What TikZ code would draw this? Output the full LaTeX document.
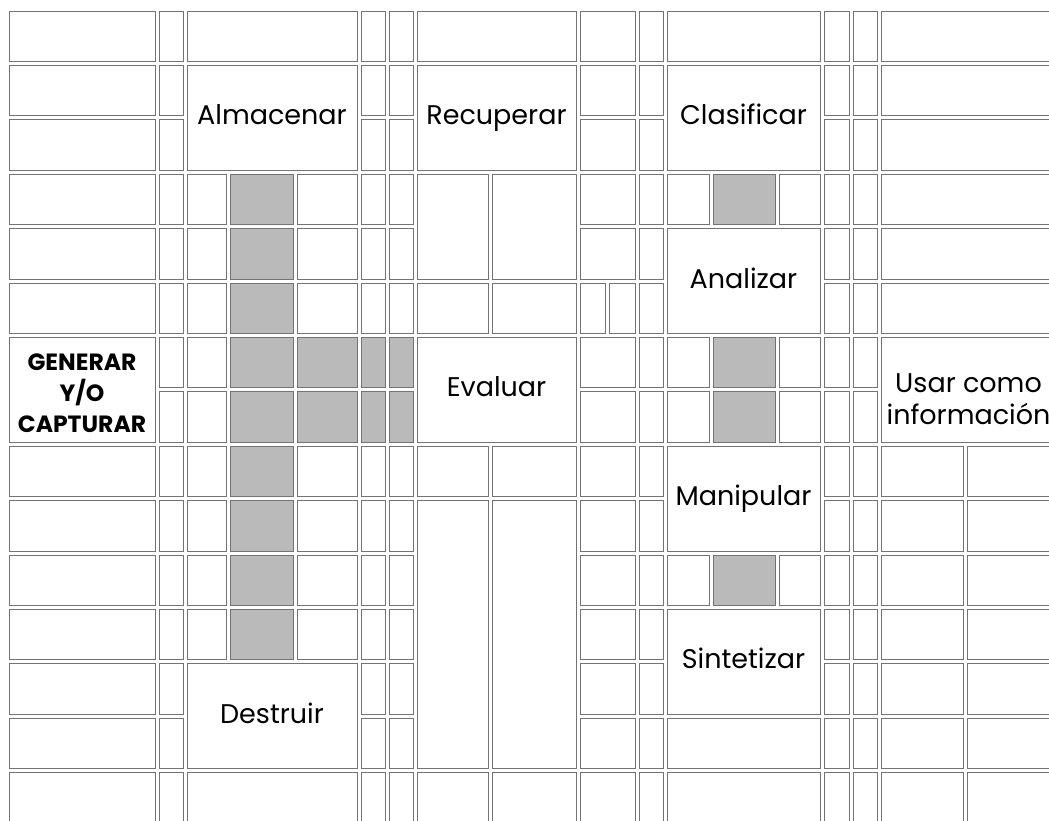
\documentclass[tikz,border=0pt]{standalone}
\usepackage{fontspec}
\setmainfont{Poppins}
\usepackage{tikz}

\tikzset{
  cell/.style={draw=black!55, line width=1pt},
  word/.style={font=\fontsize{27}{32}\selectfont, align=center, inner sep=0pt, anchor=base},
  twoline/.style={font=\fontsize{27}{32}\selectfont, align=center, inner sep=0pt, anchor=north},
  bigword/.style={font=\fontsize{23.5}{31}\selectfont\bfseries, align=center, inner sep=0pt, anchor=north}
}
\colorlet{shade}{black!27}

% one box: [fill] x-left, x-right, first row, last row
\newcommand{\blk}[5][white]{\draw[cell,fill=#1] (#2,{11+54.4*#4}) rectangle (#3,{11+54.4*(#5+1)-4});}

\begin{document}
\begin{tikzpicture}[x=1pt,y=-1pt]
  \useasboundingbox (0,0) rectangle (1049,820);
  \clip (0,0) rectangle (1049,820);
  % columns with one box per row
  \foreach \r in {0,...,14}{
    \blk{159}{183}{\r}{\r}
    \blk{639}{663}{\r}{\r}
    \blk{824}{849}{\r}{\r}
    \blk{853}{877}{\r}{\r}
  }
  \foreach \r in {0,...,5,8,9,...,14}{
    \blk{9}{155}{\r}{\r}
    \blk{361}{385}{\r}{\r}
    \blk{389}{413}{\r}{\r}
  }
  \foreach \r in {6,7}{
    \blk[shade]{361}{385}{\r}{\r}
    \blk[shade]{389}{413}{\r}{\r}
  }
  % first column
  \blk{9}{155}{6}{7}
  % Almacenar column
  \blk{187}{357}{0}{0}
  \blk{187}{357}{1}{2}
  \foreach \r in {3,...,11}{
    \blk{187}{226}{\r}{\r}
    \blk[shade]{230}{293}{\r}{\r}
    \blk{297}{357}{\r}{\r}
  }
  \foreach \r in {6,7}{\blk[shade]{297}{357}{\r}{\r}}
  \blk{187}{357}{12}{13}
  \blk{187}{357}{14}{14}
  % Recuperar / Evaluar column
  \blk{417}{576}{0}{0}
  \blk{417}{576}{1}{2}
  \blk{417}{576}{6}{7}
  \foreach \a/\b in {3/4,5/5,8/8,9/13,14/14}{
    \blk{417}{488}{\a}{\b}
    \blk{492}{576}{\a}{\b}
  }
  % narrow column beside it
  \foreach \r in {0,...,4,6,7,...,14}{\blk{580}{635}{\r}{\r}}
  \blk{580}{605}{5}{5}
  \blk{609}{635}{5}{5}
  % Clasificar column
  \foreach \a/\b in {0/0,1/2,4/5,8/9,11/12,13/13,14/14}{\blk{667}{820}{\a}{\b}}
  \foreach \r in {3,6,7,10}{
    \blk{667}{709}{\r}{\r}
    \blk[shade]{713}{775}{\r}{\r}
    \blk{779}{820}{\r}{\r}
  }
  % last column
  \foreach \r in {0,...,5}{\blk{881}{1056}{\r}{\r}}
  \blk{881}{1056}{6}{7}
  \foreach \r in {8,...,14}{
    \blk{881}{963}{\r}{\r}
    \blk{967}{1056}{\r}{\r}
  }
  % labels (baselines a little under the middle of their boxes)
  \node[bigword] (generar) at (82,354) {GENERAR\\Y/O\\CAPTURAR};
  \node[word] (almacenar) at (272,{16+27.2*4}) {Almacenar};
  \node[word] (recuperar) at (496.5,{16+27.2*4}) {Recuperar};
  \node[word] (clasificar) at (743.5,{16+27.2*4}) {Clasificar};
  \node[word] (analizar) at (743.5,{16+27.2*10}) {Analizar};
  \node[word] (evaluar) at (496.5,{16+27.2*14}) {Evaluar};
  \node[word] (manipular) at (743.5,{16+27.2*18}) {Manipular};
  \node[word] (sintetizar) at (743.5,{16+27.2*24}) {Sintetizar};
  \node[word] (destruir) at (272,{16+27.2*26}) {Destruir};
  \node[twoline] (usar) at (968.5,373) {Usar como\\información};
\end{tikzpicture}
\end{document}
